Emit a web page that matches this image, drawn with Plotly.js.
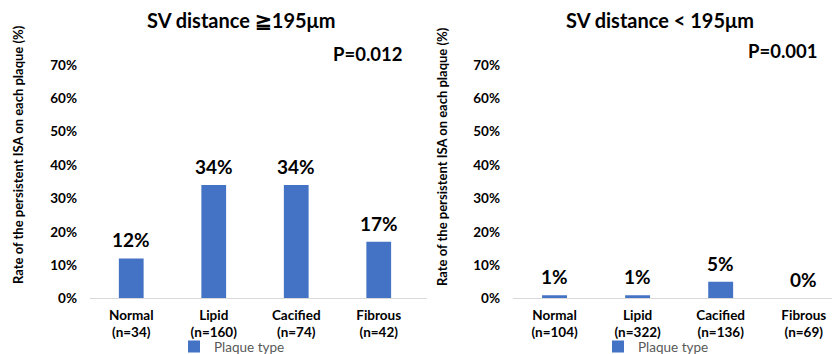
<!DOCTYPE html>
<html><head><meta charset="utf-8">
<script src="https://cdn.plot.ly/plotly-3.0.1.min.js"></script>
<style>body{margin:0;padding:0;background:#fff}#chart{width:832px;height:354px}</style>
</head><body><div id="chart"></div>
<script>
const categoriesLeft = ["Normal<br>(n=34)", "Lipid<br>(n=160)", "Cacified<br>(n=74)", "Fibrous<br>(n=42)"];
const valuesLeft = [12, 34, 34, 17];
const categoriesRight = ["Normal<br>(n=104)", "Lipid<br>(n=322)", "Cacified<br>(n=136)", "Fibrous<br>(n=69)"];
const valuesRight = [1, 1, 5, 0];
const titleLeft = "SV distance ≧195μm";
const titleRight = "SV distance < 195μm";
const pLeft = "P=0.012";
const pRight = "P=0.001";
const yTitle = "Rate of the persistent ISA on each plaque (%)";
const seriesName = "Plaque type";

const FONT = "Lato, 'Open Sans', sans-serif";
const BLUE = "#4472C4";

const traces = [
  {type:"bar", x:categoriesLeft, y:valuesLeft, name:seriesName, marker:{color:BLUE}, xaxis:"x", yaxis:"y", legend:"legend", hoverinfo:"none"},
  {type:"bar", x:categoriesRight, y:valuesRight, name:seriesName, marker:{color:BLUE}, xaxis:"x2", yaxis:"y2", legend:"legend2", hoverinfo:"none"}
];

const valueAnn = (cats, vals, xr, yr) => cats.map((c,i)=>({
  x:c, y:vals[i], xref:xr, yref:yr, text:vals[i]+"%", showarrow:false, yanchor:"bottom", yshift:5,
  font:{family:FONT, size:19, color:"#000", weight:"bold"}
}));

const yax = () => ({
  domain:[0.1568,0.8164], range:[0,70], dtick:10, ticksuffix:"%", showgrid:false, zeroline:false, showline:false,
  ticks:"", ticklabelstandoff:12, tickfont:{family:FONT, size:13.5, color:"#000", weight:"bold"},
  fixedrange:true, automargin:false
});

const xax = (dom, rng, anchor) => ({
  domain:dom, range:rng, type:"category", showline:true, linecolor:"#d9d9d9", linewidth:1, automargin:false,
  ticks:"", ticklabelstandoff:4, tickfont:{family:FONT, size:13.5, color:"#000", weight:"bold"}, anchor:anchor, fixedrange:true
});

const legendBase = {y:-0.023, xanchor:"left", yanchor:"bottom", orientation:"h", maxheight:60,
  font:{family:FONT, size:13.5, color:"#595959"}, itemwidth:30, bgcolor:"rgba(0,0,0,0)"};

const yTitleAnn = (xp, yp) => ({text:yTitle, x:xp/832, y:1-yp/354, xref:"paper", yref:"paper", xanchor:"center", yanchor:"middle",
  textangle:-90, showarrow:false, font:{family:FONT, size:13, color:"#000", weight:"bold"}});

const layout = {
  width:832, height:354, margin:{l:0,r:0,t:0,b:0, autoexpand:false}, paper_bgcolor:"#fff", plot_bgcolor:"#fff",
  bargap:0.7, font:{family:FONT},
  xaxis: xax([90/832, 427/832], [-0.5,3.585], "y"),
  xaxis2: xax([513/832, 1], [-0.5,3.34], "y2"),
  yaxis: Object.assign(yax(), {anchor:"x"}),
  yaxis2: Object.assign(yax(), {anchor:"x2"}),
  showlegend:true,
  legend: Object.assign({x:174/832}, legendBase),
  legend2: Object.assign({x:598/832}, legendBase),
  annotations: [
    {text:titleLeft, x:241/832, y:1-20/354, xref:"paper", yref:"paper", xanchor:"center", yanchor:"middle", showarrow:false, font:{family:FONT, size:20, color:"#000", weight:"bold"}},
    {text:titleRight, x:660/832, y:1-20/354, xref:"paper", yref:"paper", xanchor:"center", yanchor:"middle", showarrow:false, font:{family:FONT, size:20, color:"#000", weight:"bold"}},
    {text:pLeft, x:405/832, y:1-54/354, xref:"paper", yref:"paper", xanchor:"right", yanchor:"middle", showarrow:false, font:{family:FONT, size:18.5, color:"#000", weight:"bold"}},
    {text:pRight, x:820/832, y:1-51/354, xref:"paper", yref:"paper", xanchor:"right", yanchor:"middle", showarrow:false, font:{family:FONT, size:18.5, color:"#000", weight:"bold"}},
    yTitleAnn(18, 155),
    yTitleAnn(442, 157)
  ].concat(valueAnn(categoriesLeft, valuesLeft, "x", "y"), valueAnn(categoriesRight, valuesRight, "x2", "y2"))
};

Plotly.newPlot("chart", traces, layout, {displayModeBar:false, staticPlot:true});
</script></body></html>
